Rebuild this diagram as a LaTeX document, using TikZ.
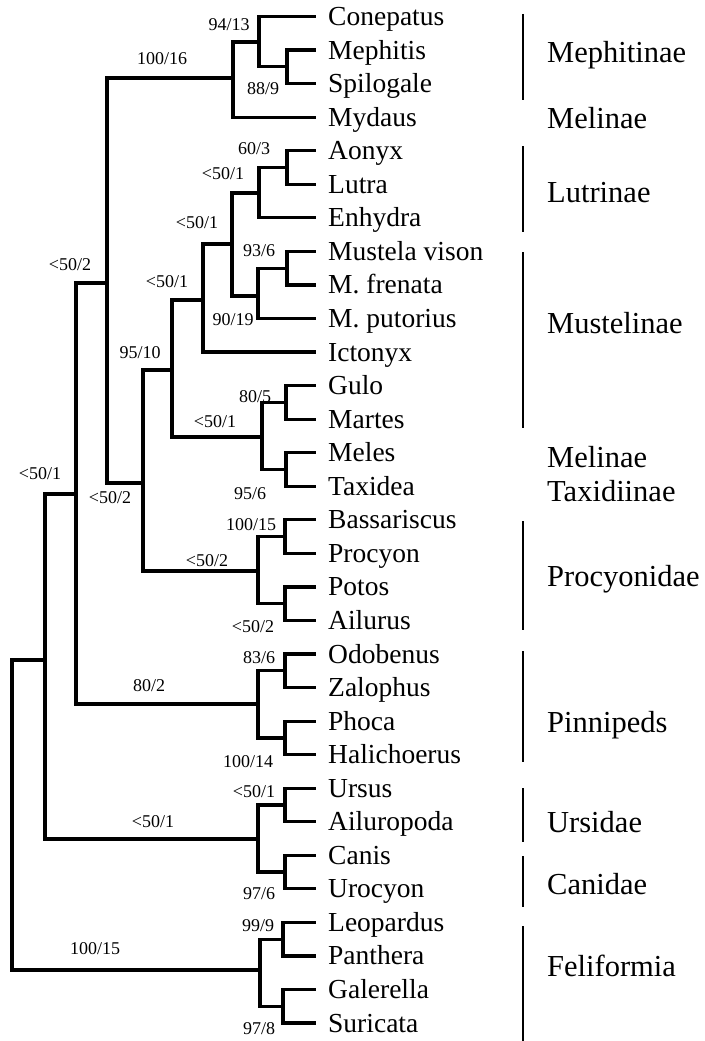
\documentclass[tikz,border=0pt]{standalone}
\usepackage{fontspec}
\setmainfont{Liberation Serif}
\begin{document}
\begin{tikzpicture}[x=1pt,y=-1pt,
  tree/.style={line width=3.2pt},
  grpbar/.style={line width=2.6pt},
  leaf/.style={anchor=west, inner xsep=12pt, inner ysep=0pt, text height=19pt, text depth=1pt, font=\fontsize{27.5}{30}\selectfont},
  grp/.style={anchor=west, inner sep=0pt, text height=21pt, text depth=1pt, font=\fontsize{30.5}{33}\selectfont},
  bs/.style={inner sep=0pt, text height=12.2pt, text depth=0pt, font=\fontsize{18}{20}\selectfont}]
\useasboundingbox (0,0) rectangle (704,1041);

% leaves
\node[leaf] (conepatus) at (316,16.5) {Conepatus};
\node[leaf] (mephitis) at (316,50.1) {Mephitis};
\node[leaf] (spilogale) at (316,83.6) {Spilogale};
\node[leaf] (mydaus) at (316,117.2) {Mydaus};
\node[leaf] (aonyx) at (316,150.7) {Aonyx};
\node[leaf] (lutra) at (316,184.3) {Lutra};
\node[leaf] (enhydra) at (316,217.8) {Enhydra};
\node[leaf] (mvison) at (316,251.4) {Mustela vison};
\node[leaf] (mfrenata) at (316,284.9) {M. frenata};
\node[leaf] (mputorius) at (316,318.5) {M. putorius};
\node[leaf] (ictonyx) at (316,352.0) {Ictonyx};
\node[leaf] (gulo) at (316,385.6) {Gulo};
\node[leaf] (martes) at (316,419.1) {Martes};
\node[leaf] (meles) at (316,452.7) {Meles};
\node[leaf] (taxidea) at (316,486.2) {Taxidea};
\node[leaf] (bassariscus) at (316,519.8) {Bassariscus};
\node[leaf] (procyon) at (316,553.3) {Procyon};
\node[leaf] (potos) at (316,586.9) {Potos};
\node[leaf] (ailurus) at (316,620.4) {Ailurus};
\node[leaf] (odobenus) at (316,654.0) {Odobenus};
\node[leaf] (zalophus) at (316,687.5) {Zalophus};
\node[leaf] (phoca) at (316,721.1) {Phoca};
\node[leaf] (halichoerus) at (316,754.6) {Halichoerus};
\node[leaf] (ursus) at (316,788.2) {Ursus};
\node[leaf] (ailuropoda) at (316,821.7) {Ailuropoda};
\node[leaf] (canis) at (316,855.3) {Canis};
\node[leaf] (urocyon) at (316,888.8) {Urocyon};
\node[leaf] (leopardus) at (316,922.4) {Leopardus};
\node[leaf] (panthera) at (316,955.9) {Panthera};
\node[leaf] (galerella) at (316,989.5) {Galerella};
\node[leaf] (suricata) at (316,1023.0) {Suricata};

% internal nodes
\coordinate (ms) at (287,66.9);
\coordinate (cms) at (259,42);
\coordinate (meph) at (233,78);
\coordinate (al) at (287,167.5);
\coordinate (lut) at (259,193);
\coordinate (mvmf) at (287,268.2);
\coordinate (must) at (258,296);
\coordinate (lutmust) at (232,244);
\coordinate (lmi) at (203,300);
\coordinate (gm) at (286,402.4);
\coordinate (mt) at (286,469.5);
\coordinate (gmmt) at (262,437);
\coordinate (mustinae) at (172,370);
\coordinate (bp) at (285,536.6);
\coordinate (pa) at (285,603.7);
\coordinate (procy) at (258,571);
\coordinate (mp) at (143,483);
\coordinate (musteloidea) at (107,283);
\coordinate (oz) at (285,670.8);
\coordinate (ph) at (285,737.9);
\coordinate (pinn) at (258,704);
\coordinate (arct) at (76,494);
\coordinate (ua) at (285,805);
\coordinate (cu) at (285,872);
\coordinate (uc) at (258,839);
\coordinate (cani) at (45,660);
\coordinate (lp) at (283,939.2);
\coordinate (gs) at (283,1006.3);
\coordinate (feli) at (260,970);
\coordinate (root) at (12,815);

\begin{scope}[tree]
\draw (ms) |- (mephitis.west);
\draw (ms) |- (spilogale.west);
\draw (cms) |- (conepatus.west);
\draw (cms) |- (ms);
\draw (meph) |- (cms);
\draw (meph) |- (mydaus.west);
\draw (al) |- (aonyx.west);
\draw (al) |- (lutra.west);
\draw (lut) |- (al);
\draw (lut) |- (enhydra.west);
\draw (mvmf) |- (mvison.west);
\draw (mvmf) |- (mfrenata.west);
\draw (must) |- (mvmf);
\draw (must) |- (mputorius.west);
\draw (lutmust) |- (lut);
\draw (lutmust) |- (must);
\draw (lmi) |- (lutmust);
\draw (lmi) |- (ictonyx.west);
\draw (gm) |- (gulo.west);
\draw (gm) |- (martes.west);
\draw (mt) |- (meles.west);
\draw (mt) |- (taxidea.west);
\draw (gmmt) |- (gm);
\draw (gmmt) |- (mt);
\draw (mustinae) |- (lmi);
\draw (mustinae) |- (gmmt);
\draw (bp) |- (bassariscus.west);
\draw (bp) |- (procyon.west);
\draw (pa) |- (potos.west);
\draw (pa) |- (ailurus.west);
\draw (procy) |- (bp);
\draw (procy) |- (pa);
\draw (mp) |- (mustinae);
\draw (mp) |- (procy);
\draw (musteloidea) |- (meph);
\draw (musteloidea) |- (mp);
\draw (oz) |- (odobenus.west);
\draw (oz) |- (zalophus.west);
\draw (ph) |- (phoca.west);
\draw (ph) |- (halichoerus.west);
\draw (pinn) |- (oz);
\draw (pinn) |- (ph);
\draw (arct) |- (musteloidea);
\draw (arct) |- (pinn);
\draw (ua) |- (ursus.west);
\draw (ua) |- (ailuropoda.west);
\draw (cu) |- (canis.west);
\draw (cu) |- (urocyon.west);
\draw (uc) |- (ua);
\draw (uc) |- (cu);
\draw (cani) |- (arct);
\draw (cani) |- (uc);
\draw (lp) |- (leopardus.west);
\draw (lp) |- (panthera.west);
\draw (gs) |- (galerella.west);
\draw (gs) |- (suricata.west);
\draw (feli) |- (lp);
\draw (feli) |- (gs);
\draw (root) |- (cani);
\draw (root) |- (feli);
\end{scope}

% support labels
\node[bs] (s1) at (229,24) {94/13};
\node[bs] (s2) at (162,58) {100/16};
\node[bs] (s3) at (263,88) {88/9};
\node[bs] (s4) at (254,148) {60/3};
\node[bs] (s5) at (223,173) {<50/1};
\node[bs] (s6) at (197,222) {<50/1};
\node[bs] (s7) at (259,250) {93/6};
\node[bs] (s8) at (70,264) {<50/2};
\node[bs] (s9) at (167,281) {<50/1};
\node[bs] (s10) at (233,319) {90/19};
\node[bs] (s11) at (140,352) {95/10};
\node[bs] (s12) at (255,396) {80/5};
\node[bs] (s13) at (215,421) {<50/1};
\node[bs] (s14) at (40,473) {<50/1};
\node[bs] (s15) at (250,493) {95/6};
\node[bs] (s16) at (110,497) {<50/2};
\node[bs] (s17) at (251,524) {100/15};
\node[bs] (s18) at (207,560) {<50/2};
\node[bs] (s19) at (253,626) {<50/2};
\node[bs] (s20) at (259,657) {83/6};
\node[bs] (s21) at (149,685) {80/2};
\node[bs] (s22) at (248,761) {100/14};
\node[bs] (s23) at (254,791) {<50/1};
\node[bs] (s24) at (153,821) {<50/1};
\node[bs] (s25) at (259,893) {97/6};
\node[bs] (s26) at (258,925) {99/9};
\node[bs] (s27) at (95,948) {100/15};
\node[bs] (s28) at (259,1028) {97/8};

% group bars
\coordinate (g1t) at (523,14);  \coordinate (g1b) at (523,100);
\coordinate (g2t) at (523,146); \coordinate (g2b) at (523,232);
\coordinate (g3t) at (523,252); \coordinate (g3b) at (523,428);
\coordinate (g4t) at (523,521); \coordinate (g4b) at (523,630);
\coordinate (g5t) at (523,651); \coordinate (g5b) at (523,762);
\coordinate (g6t) at (523,788); \coordinate (g6b) at (523,842);
\coordinate (g7t) at (523,856); \coordinate (g7b) at (523,907);
\coordinate (g8t) at (523,926); \coordinate (g8b) at (523,1041);
\begin{scope}[grpbar]
\draw (g1t) -- (g1b);
\draw (g2t) -- (g2b);
\draw (g3t) -- (g3b);
\draw (g4t) -- (g4b);
\draw (g5t) -- (g5b);
\draw (g6t) -- (g6b);
\draw (g7t) -- (g7b);
\draw (g8t) -- (g8b);
\end{scope}

% group labels
\node[grp] (mephitinae) at (547,53) {Mephitinae};
\node[grp] (melinae1) at (547,118) {Melinae};
\node[grp] (lutrinae) at (547,192) {Lutrinae};
\node[grp] (mustelinae) at (547,323) {Mustelinae};
\node[grp] (melinae2) at (547,457) {Melinae};
\node[grp] (taxidiinae) at (547,491) {Taxidiinae};
\node[grp] (procyonidae) at (547,576) {Procyonidae};
\node[grp] (pinnipeds) at (547,722) {Pinnipeds};
\node[grp] (ursidae) at (547,822) {Ursidae};
\node[grp] (canidae) at (547,884) {Canidae};
\node[grp] (feliformia) at (547,966) {Feliformia};
\end{tikzpicture}
\end{document}
